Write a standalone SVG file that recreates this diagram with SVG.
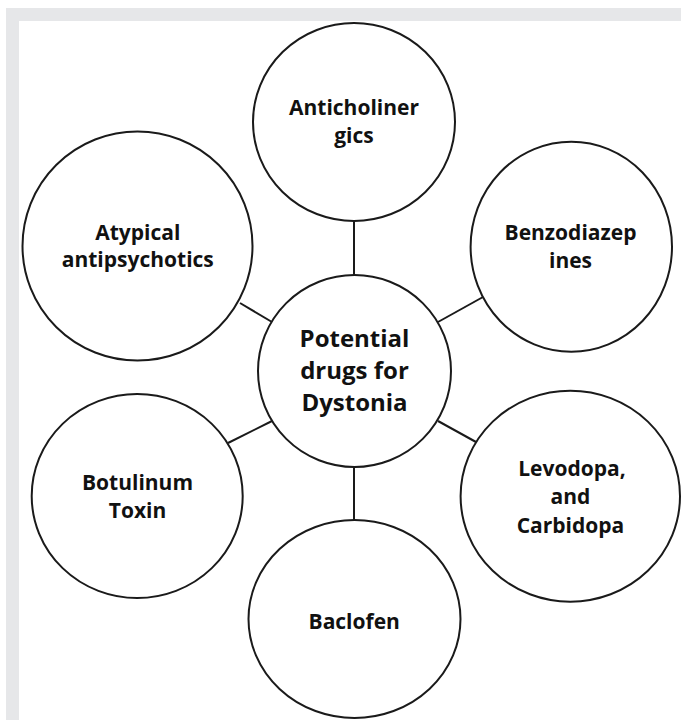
<svg xmlns="http://www.w3.org/2000/svg" width="681" height="720" viewBox="0 0 681 720">
<style>
.c{fill:#fff;stroke:#1a1a1a;stroke-width:2}
.l{stroke:#1a1a1a;stroke-width:2;fill:none}
.t{font-family:"Open Sans","Liberation Sans",sans-serif;font-weight:bold;font-size:21px;fill:#111;text-anchor:middle}
.tc{font-size:24px}
</style>
<rect x="0" y="0" width="681" height="720" fill="#fff"/>
<rect x="6" y="8" width="675" height="13" fill="#e6e7e9"/>
<rect x="6" y="8" width="13" height="712" fill="#e6e7e9"/>
<g id="connectors">
<line class="l" x1="354" y1="221" x2="354" y2="275"/>
<line class="l" x1="354" y1="467" x2="354" y2="520"/>
<line class="l" x1="240" y1="303" x2="272" y2="322"/>
<line class="l" x1="438" y1="322" x2="483" y2="297"/>
<line class="l" x1="228" y1="443" x2="272" y2="421"/>
<line class="l" x1="438" y1="421" x2="476" y2="442"/>
</g>
<g id="center">
<ellipse class="c" cx="354.5" cy="371" rx="96.5" ry="96"/>
<text class="t tc" x="354.5" y="347">Potential</text>
<text class="t tc" x="354.5" y="379">drugs for</text>
<text class="t tc" x="354.5" y="411">Dystonia</text>
</g>
<g id="anticholinergics">
<ellipse class="c" cx="354" cy="122" rx="101" ry="99"/>
<text class="t" x="354" y="115">Anticholiner</text>
<text class="t" x="354" y="143">gics</text>
</g>
<g id="benzodiazepines">
<ellipse class="c" cx="571.3" cy="246.7" rx="100.7" ry="105"/>
<text class="t" x="570.5" y="239.5">Benzodiazep</text>
<text class="t" x="570.5" y="267.5">ines</text>
</g>
<g id="atypical">
<ellipse class="c" cx="137.5" cy="246" rx="115" ry="114.5"/>
<text class="t" x="137.8" y="240">Atypical</text>
<text class="t" x="137.8" y="267">antipsychotics</text>
</g>
<g id="botulinum">
<ellipse class="c" cx="137.2" cy="496" rx="105.5" ry="102"/>
<text class="t" x="137.5" y="490">Botulinum</text>
<text class="t" x="137.5" y="518">Toxin</text>
</g>
<g id="levodopa">
<ellipse class="c" cx="570.3" cy="496.2" rx="109.7" ry="105.5"/>
<text class="t" x="572" y="476">Levodopa,</text>
<text class="t" x="570.5" y="504">and</text>
<text class="t" x="570.5" y="533">Carbidopa</text>
</g>
<g id="baclofen">
<ellipse class="c" cx="354.5" cy="619" rx="106" ry="99"/>
<text class="t" x="354.2" y="628.5">Baclofen</text>
</g>
</svg>
